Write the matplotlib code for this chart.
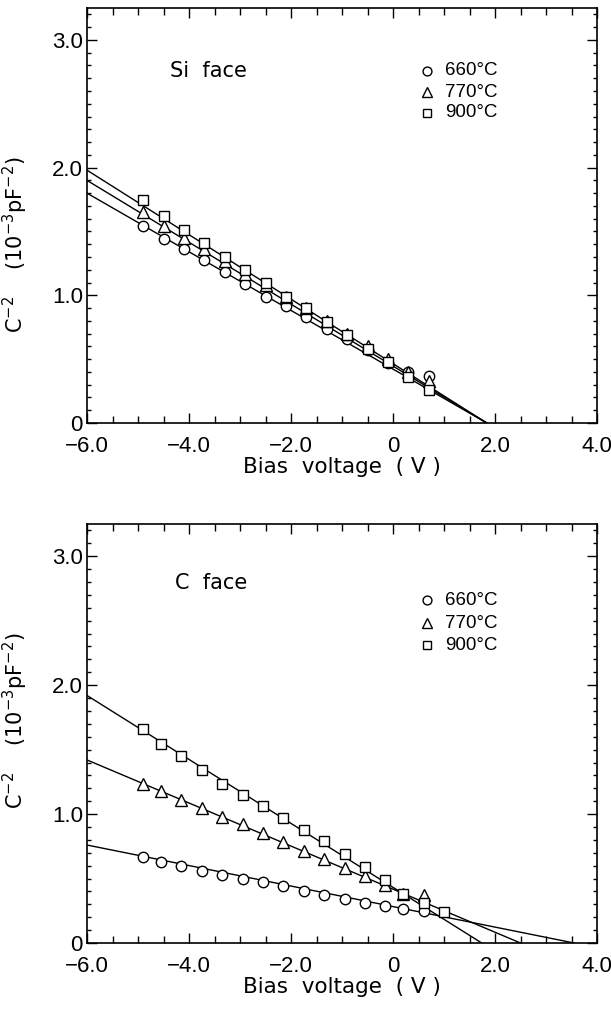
import numpy as np
import matplotlib
matplotlib.use("Agg")
import matplotlib.pyplot as plt
from matplotlib.ticker import MultipleLocator, FixedLocator, FixedFormatter

# Si face data
si_bias = [-4.9, -4.5, -4.1, -3.7, -3.3, -2.9, -2.5, -2.1, -1.7, -1.3, -0.9, -0.5, -0.1, 0.3, 0.7]
si_660 = [1.54, 1.44, 1.36, 1.28, 1.18, 1.09, 0.99, 0.92, 0.83, 0.74, 0.66, 0.57, 0.47, 0.40, 0.37]
si_770 = [1.65, 1.54, 1.45, 1.36, 1.27, 1.17, 1.08, 0.99, 0.90, 0.80, 0.70, 0.60, 0.50, 0.40, 0.33]
si_900 = [1.75, 1.62, 1.51, 1.41, 1.30, 1.20, 1.10, 0.99, 0.90, 0.79, 0.69, 0.58, 0.48, 0.36, 0.26]
# fitted lines: (value at -6 V, x intercept)
si_fit_660 = (1.80, 1.84)
si_fit_770 = (1.90, 1.84)
si_fit_900 = (1.98, 1.84)

# C face data
c_bias = [-4.9, -4.55, -4.15, -3.75, -3.35, -2.95, -2.55, -2.15, -1.75, -1.35, -0.95, -0.55, -0.15, 0.2, 0.6, 1.0]
c_660 = [0.67, 0.63, 0.60, 0.56, 0.53, 0.50, 0.47, 0.44, 0.40, 0.37, 0.34, 0.31, 0.285, 0.26, 0.25, None]
c_770 = [1.23, 1.18, 1.11, 1.05, 0.98, 0.92, 0.85, 0.78, 0.71, 0.65, 0.58, 0.52, 0.45, 0.38, 0.37, None]
c_900 = [1.66, 1.54, 1.45, 1.34, 1.23, 1.15, 1.06, 0.97, 0.88, 0.79, 0.69, 0.59, 0.49, 0.38, 0.31, 0.24]
c_fit_660 = (0.76, 3.55)
c_fit_770 = (1.42, 2.50)
c_fit_900 = (1.92, 1.74)

temps = ["660°C", "770°C", "900°C"]
markers = ["o", "^", "s"]
msizes = [7.5, 8.5, 7]

x_ticks = [-6, -4, -2, 0, 2, 4]
x_ticklabels = ["−6.0", "−4.0", "−2.0", "0", "2.0", "4.0"]
y_ticks = [0, 1, 2, 3]
y_ticklabels = ["0", "1.0", "2.0", "3.0"]

narrow = ['Liberation Sans', 'DejaVu Sans']
plt.rcParams['font.family'] = ['DejaVu Sans']
plt.rcParams['mathtext.default'] = 'regular'

fig = plt.figure(figsize=(6.11, 10.13), dpi=100)
ax_top = fig.add_axes([0.1424, 0.5824, 0.8347, 0.4097])
ax_bot = fig.add_axes([0.1424, 0.0691, 0.8347, 0.4136])


def draw_panel(ax, bias, series, fits, title, title_pos, leg_y, label_y):
    for (y0, x0) in fits:
        ax.plot([-6, x0], [y0, 0], color='black', lw=1.0, zorder=2)
    for vals, m, ms in zip(series, markers, msizes):
        xs = [b for b, v in zip(bias, vals) if v is not None]
        ys = [v for v in vals if v is not None]
        ax.plot(xs, ys, linestyle='none', marker=m, ms=ms, mfc='white',
                mec='black', mew=1.0, zorder=3)
    ax.text(title_pos[0], title_pos[1], title, fontsize=15, va='center', ha='left')
    for t, m, ms, yy in zip(temps, markers, msizes, leg_y):
        ax.plot([0.67], [yy], linestyle='none', marker=m, ms=ms * 0.85, mfc='white',
                mec='black', mew=1.0, clip_on=False)
        ax.text(1.02, yy, t, fontsize=13.5, va='center', ha='left', family=narrow)

    ax.set_xlim(-6, 4)
    ax.set_ylim(0, 3.25)
    ax.xaxis.set_major_locator(FixedLocator(x_ticks))
    ax.xaxis.set_major_formatter(FixedFormatter(x_ticklabels))
    ax.xaxis.set_minor_locator(MultipleLocator(0.5))
    ax.yaxis.set_major_locator(FixedLocator(y_ticks))
    ax.yaxis.set_major_formatter(FixedFormatter(y_ticklabels))
    ax.yaxis.set_minor_locator(MultipleLocator(0.1))
    ax.tick_params(which='both', direction='in', top=True, right=True,
                   width=1.0, labelsize=16)
    ax.tick_params(axis='x', which='major', length=7, pad=9)
    ax.tick_params(axis='x', which='minor', length=5)
    ax.tick_params(axis='y', which='major', length=7, pad=3)
    ax.tick_params(axis='y', which='minor', length=3)
    for lab in ax.get_xticklabels() + ax.get_yticklabels():
        lab.set_family(narrow)
    for sp in ax.spines.values():
        sp.set_linewidth(1.2)
    ax.set_xlabel("Bias  voltage  ( V )", fontsize=15.5, labelpad=0)
    ax.set_ylabel(r"C$^{-2}$    (10$^{-3}$pF$^{-2}$)", fontsize=15)
    ax.yaxis.set_label_coords(-0.112, label_y)


draw_panel(ax_top, si_bias, [si_660, si_770, si_900],
           [si_fit_660, si_fit_770, si_fit_900],
           "Si  face", (-4.37, 2.76), [2.76, 2.59, 2.43], 0.43)
draw_panel(ax_bot, c_bias, [c_660, c_770, c_900],
           [c_fit_660, c_fit_770, c_fit_900],
           "C  face", (-4.27, 2.79), [2.66, 2.48, 2.31], 0.53)

fig.savefig("out.png", dpi=100)
